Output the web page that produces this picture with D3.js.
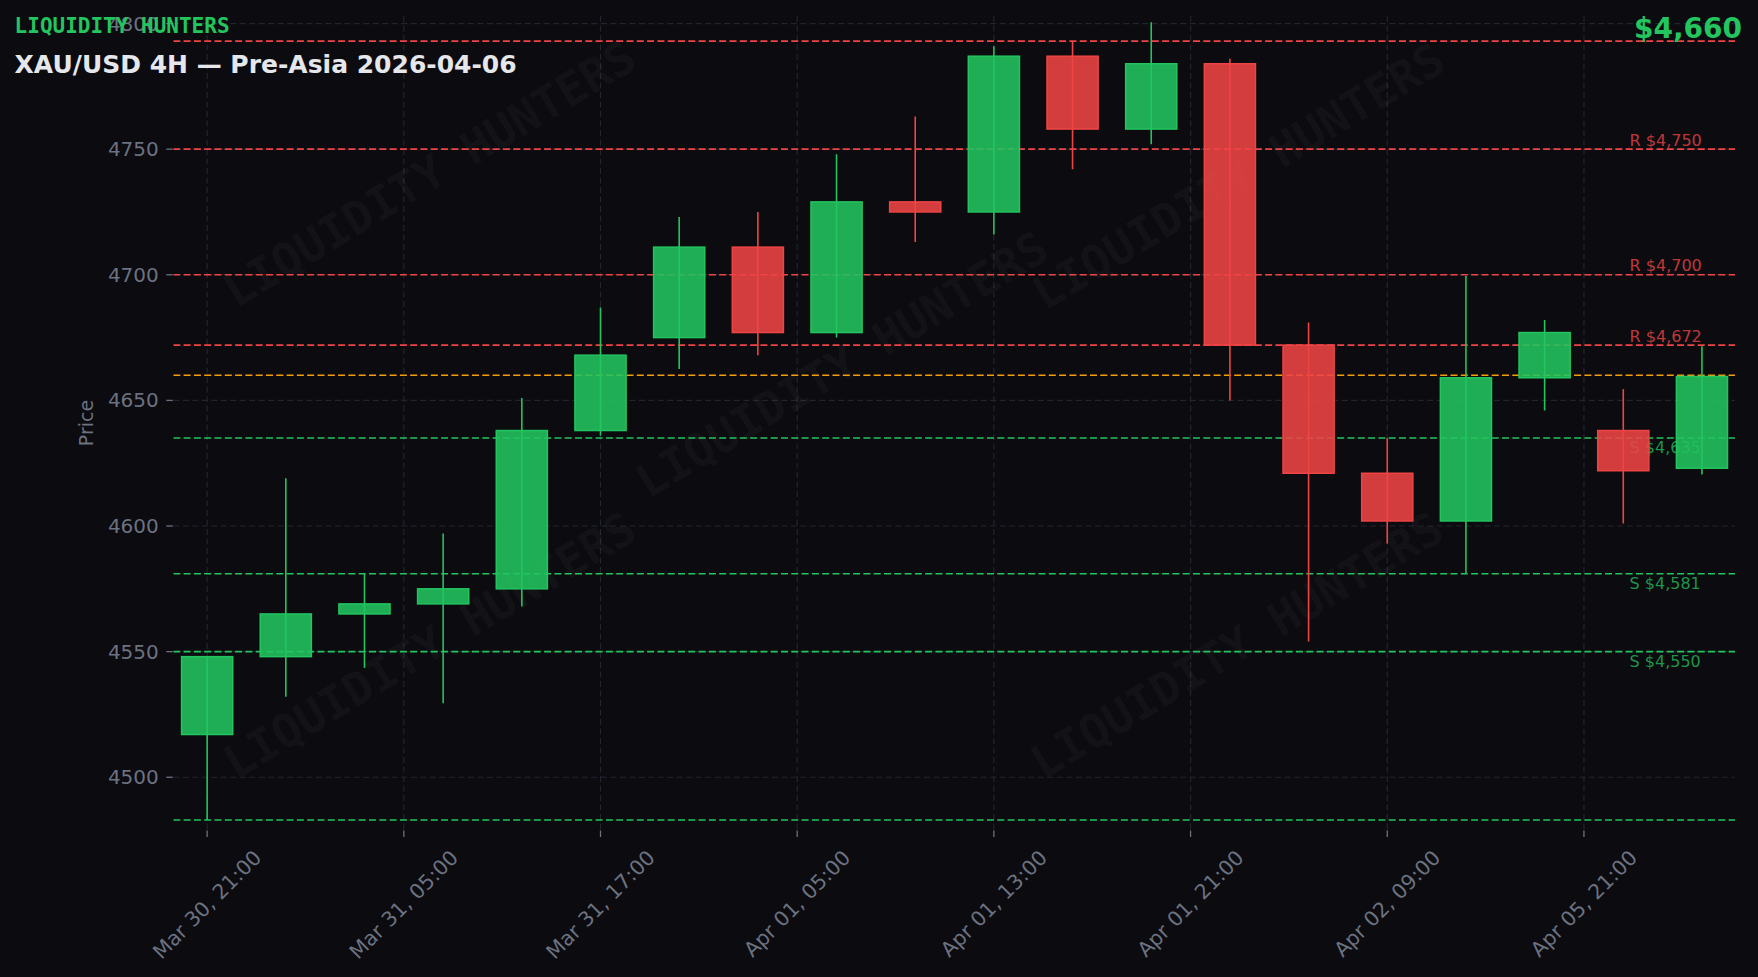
<!DOCTYPE html>
<html>
<head>
<meta charset="utf-8">
<script src="https://cdn.jsdelivr.net/npm/d3@7"></script>
<style>
  html, body { margin: 0; padding: 0; background: #0b0b10; }
  svg { display: block; }
</style>
</head>
<body>
<svg id="chart" width="1758" height="977"></svg>
<script>
// ---------------- DATA ----------------
const candleOpen  = [4517, 4548, 4565, 4569, 4575, 4638, 4675, 4711, 4677, 4729, 4725, 4787, 4758, 4784, 4672, 4621, 4602, 4659, 4638, 4623];
const candleHigh  = [4548, 4619, 4581, 4597, 4651, 4687, 4723, 4725, 4748, 4763, 4791, 4793, 4800.5, 4786, 4681, 4635, 4699.5, 4682, 4654.5, 4671.5];
const candleLow   = [4483, 4532, 4543.5, 4529.5, 4568, 4636, 4662.5, 4668, 4675, 4713, 4716, 4742, 4752, 4650, 4554, 4593, 4581, 4646, 4601, 4620.5];
const candleClose = [4548, 4565, 4569, 4575, 4638, 4668, 4711, 4677, 4729, 4725, 4787, 4758, 4784, 4672, 4621, 4602, 4659, 4677, 4622, 4659.5];

const tickPositions = [0, 2.5, 5, 7.5, 10, 12.5, 15, 17.5];
const tickLabels = ["Mar 30, 21:00", "Mar 31, 05:00", "Mar 31, 17:00", "Apr 01, 05:00",
                    "Apr 01, 13:00", "Apr 01, 21:00", "Apr 02, 09:00", "Apr 05, 21:00"];
const yTicks = [4500, 4550, 4600, 4650, 4700, 4750, 4800];

const resistanceLevels = [4793, 4750, 4700, 4672];
const resistanceLabeled = [false, true, true, true];
const supportLevels = [4635, 4581, 4550, 4483];
const supportLabeled = [true, true, true, false];
const currentPrice = 4660;

const brandText = "LIQUIDITY HUNTERS";
const titleText = "XAU/USD 4H — Pre-Asia 2026-04-06";
const priceText = "$4,660";
const yAxisTitle = "Price";

// ---------------- STYLE ----------------
const C = {
  bg: "#0b0b10",
  green: "#22c55e",
  red: "#ef4444",
  orange: "#f59e0b",
  grid: "#23252e",
  tick: "#6b7280",
  title: "#e5e7eb"
};
const FONT = "'DejaVu Sans', 'Liberation Sans', sans-serif";
const MONO = "'DejaVu Sans Mono', 'Liberation Mono', monospace";

const plot = { left: 173.3, right: 1735, top: 16, bottom: 830 };

const svg = d3.select("#chart");
svg.append("rect").attr("width", 1758).attr("height", 977).attr("fill", C.bg);

const x = d3.scaleLinear().domain([-0.43, 19.42]).range([plot.left, plot.right]);
const y = d3.scaleLinear().domain([4479.0, 4803.0]).range([plot.bottom, plot.top]);

svg.append("clipPath").attr("id", "plotclip")
  .append("rect").attr("x", plot.left).attr("y", plot.top)
  .attr("width", plot.right - plot.left).attr("height", plot.bottom - plot.top);

const g = svg.append("g").attr("clip-path", "url(#plotclip)");

// grid
g.selectAll(".hgrid").data(yTicks).enter().append("line")
  .attr("x1", plot.left).attr("x2", plot.right)
  .attr("y1", d => y(d)).attr("y2", d => y(d))
  .attr("stroke", C.grid).attr("stroke-width", 1.2).attr("stroke-dasharray", "6,3.5");
g.selectAll(".vgrid").data(tickPositions).enter().append("line")
  .attr("x1", d => x(d)).attr("x2", d => x(d))
  .attr("y1", plot.top).attr("y2", plot.bottom)
  .attr("stroke", C.grid).attr("stroke-width", 1.2).attr("stroke-dasharray", "6,3.5");

// watermarks
const wmPos = [[0.164, 0.194], [0.428, 0.428], [0.682, 0.197], [0.164, 0.773], [0.681, 0.773]];
wmPos.forEach(p => {
  const cx = plot.left + p[0] * (plot.right - plot.left);
  const cy = plot.top + p[1] * (plot.bottom - plot.top);
  g.append("text")
    .attr("transform", `translate(${cx},${cy}) rotate(-31)`)
    .attr("text-anchor", "middle").attr("dominant-baseline", "central")
    .attr("font-family", MONO).attr("font-weight", "bold").attr("font-size", 46)
    .attr("fill", "#ffffff").attr("fill-opacity", 0.045)
    .text(brandText);
});

// level lines
function levelLine(price, color) {
  g.append("line")
    .attr("x1", plot.left).attr("x2", plot.right)
    .attr("y1", y(price)).attr("y2", y(price))
    .attr("stroke", color).attr("stroke-width", 1.6).attr("stroke-dasharray", "7,3.3");
}
resistanceLevels.forEach(v => levelLine(v, C.red));
supportLevels.forEach(v => levelLine(v, C.green));
levelLine(currentPrice, C.orange);

const fmt = d3.format(",");
const labelX = x(18.08);
resistanceLevels.forEach((v, i) => {
  if (!resistanceLabeled[i]) return;
  g.append("text").attr("x", labelX).attr("y", y(v) - 3.5)
    .attr("font-family", FONT).attr("font-size", 16)
    .attr("fill", C.red).attr("fill-opacity", 0.8)
    .text("R $" + fmt(v));
});
supportLevels.forEach((v, i) => {
  if (!supportLabeled[i]) return;
  g.append("text").attr("x", labelX).attr("y", y(v) + 15)
    .attr("font-family", FONT).attr("font-size", 16)
    .attr("fill", C.green).attr("fill-opacity", 0.75)
    .text("S $" + fmt(v));
});

// candles
const bodyW = x(0.65) - x(0);
const candles = candleOpen.map((o, i) => ({ i, o, h: candleHigh[i], l: candleLow[i], c: candleClose[i] }));
const cg = g.selectAll(".candle").data(candles).enter().append("g");
cg.append("line")
  .attr("x1", d => x(d.i)).attr("x2", d => x(d.i))
  .attr("y1", d => y(d.h)).attr("y2", d => y(d.l))
  .attr("stroke", d => d.c >= d.o ? C.green : C.red).attr("stroke-width", 1.6);
cg.append("rect")
  .attr("x", d => x(d.i) - bodyW / 2)
  .attr("width", bodyW)
  .attr("y", d => y(Math.max(d.o, d.c)))
  .attr("height", d => Math.max(1, y(Math.min(d.o, d.c)) - y(Math.max(d.o, d.c))))
  .attr("fill", d => d.c >= d.o ? C.green : C.red).attr("fill-opacity", 0.88)
  .attr("stroke", d => d.c >= d.o ? C.green : C.red).attr("stroke-width", 1.5);

// y axis ticks
const yAxis = svg.append("g");
yTicks.forEach(v => {
  yAxis.append("line").attr("x1", plot.left - 7).attr("x2", plot.left - 0.5)
    .attr("y1", y(v)).attr("y2", y(v)).attr("stroke", C.tick).attr("stroke-width", 1.3);
  yAxis.append("text").attr("x", plot.left - 14.5).attr("y", y(v))
    .attr("text-anchor", "end").attr("dominant-baseline", "central")
    .attr("font-family", FONT).attr("font-size", 20).attr("fill", C.tick)
    .text(v);
});
svg.append("text")
  .attr("transform", `translate(86,${(plot.top + plot.bottom) / 2}) rotate(-90)`)
  .attr("text-anchor", "middle").attr("dominant-baseline", "central")
  .attr("font-family", FONT).attr("font-size", 19).attr("fill", C.tick)
  .text(yAxisTitle);

// x axis ticks
const xAxis = svg.append("g");
tickPositions.forEach((p, i) => {
  xAxis.append("line").attr("x1", x(p)).attr("x2", x(p))
    .attr("y1", plot.bottom + 0.5).attr("y2", plot.bottom + 7)
    .attr("stroke", C.tick).attr("stroke-width", 1.3);
  const t = xAxis.append("text")
    .attr("text-anchor", "middle").attr("dominant-baseline", "central")
    .attr("font-family", FONT).attr("font-size", 20.5).attr("fill", C.tick)
    .text(tickLabels[i]);
  const L = t.node().getComputedTextLength();
  const bb = (L + 20.5 * 1.1) * Math.SQRT1_2;
  const top = plot.bottom + 16;
  t.attr("transform", `translate(${x(p)},${top + bb / 2}) rotate(-45)`);
});

// header texts
svg.append("text").attr("x", 14.6).attr("y", 32.5)
  .attr("font-family", MONO).attr("font-weight", "bold").attr("font-size", 21)
  .attr("fill", C.green).text(brandText);
svg.append("text").attr("x", 14.6).attr("y", 73)
  .attr("font-family", FONT).attr("font-weight", "bold").attr("font-size", 25)
  .attr("fill", C.title).text(titleText);
svg.append("text").attr("x", 1742).attr("y", 38)
  .attr("text-anchor", "end")
  .attr("font-family", FONT).attr("font-weight", "bold").attr("font-size", 28)
  .attr("fill", C.green).text(priceText);
</script>
</body>
</html>
